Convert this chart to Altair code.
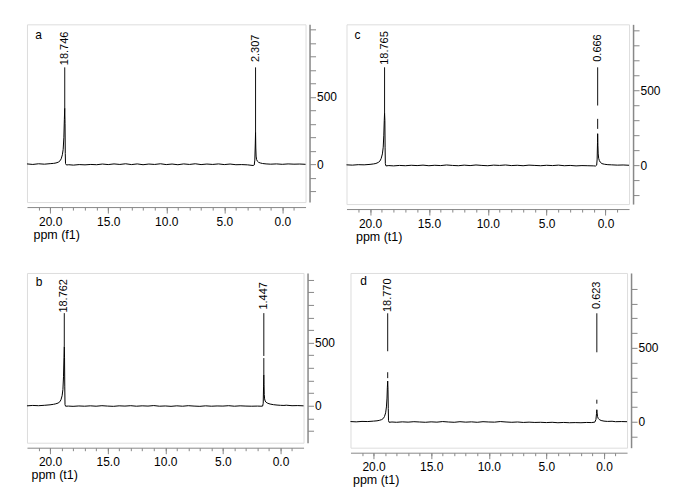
import altair as alt
import pandas as pd

FONT = "Liberation Sans"

# ---------------- spectra (ppm, intensity) ----------------
spec_a = [(22.0, 2), (21.5, -2), (21.0, 3), (20.5, 0), (20.0, 4), (19.7, 6), (19.5, 9), (19.3, 15),
          (19.15, 25), (19.05, 40), (18.95, 70), (18.88, 110), (18.82, 200), (18.78, 330), (18.746, 415),
          (18.72, 300), (18.70, 80), (18.68, 5), (18.6, -6), (18.4, -4), (18.0, -7), (17.5, -3), (17.0, -5),
          (16.5, -2), (16.0, -4), (15.5, 1), (15.0, -3), (14.5, 2), (14.0, -2), (13.5, 3), (13.0, -3),
          (12.5, 2), (12.0, -4), (11.5, 1), (11.0, -2), (10.5, 3), (10.0, -3), (9.5, 1), (9.0, -4), (8.5, 2),
          (8.0, -2), (7.5, 3), (7.0, -3), (6.5, 1), (6.0, -2), (5.5, 2), (5.0, -3), (4.5, 1), (4.0, -4),
          (3.5, -3), (3.0, -5), (2.7, -8), (2.5, -10), (2.42, -6), (2.37, 30), (2.33, 150), (2.307, 237),
          (2.285, 120), (2.26, 60), (2.22, 35), (2.15, 22), (2.05, 14), (1.9, 9), (1.7, 5), (1.4, 2),
          (1.0, 0), (0.5, 2), (0.0, -1), (-0.5, 2), (-1.0, 0), (-1.5, 1), (-2.0, -1)]

spec_b = [(22.0, 0), (21.5, 3), (21.0, 1), (20.5, 4), (20.0, 8), (19.7, 12), (19.5, 16), (19.3, 22),
          (19.15, 32), (19.05, 48), (18.95, 80), (18.88, 130), (18.83, 230), (18.79, 380), (18.762, 468),
          (18.74, 380), (18.72, 150), (18.70, 10), (18.65, -3), (18.4, -2), (18.0, -4), (17.5, -1),
          (17.0, -3), (16.5, 0), (16.0, -3), (15.5, 1), (15.0, -2), (14.5, -4), (14.0, 0), (13.5, -2),
          (13.0, 1), (12.5, -3), (12.0, 0), (11.5, -2), (11.0, 2), (10.5, -3), (10.0, -1), (9.5, -4),
          (9.0, 0), (8.5, -3), (8.0, 1), (7.5, -2), (7.0, -4), (6.5, 0), (6.0, -3), (5.5, -1), (5.0, -2),
          (4.5, 1), (4.0, -3), (3.5, 0), (3.0, -2), (2.5, -3), (2.0, -2), (1.7, -3), (1.55, -2), (1.5, 20),
          (1.47, 150), (1.447, 245), (1.43, 170), (1.41, 90), (1.38, 55), (1.33, 38), (1.25, 28),
          (1.1, 20), (0.9, 14), (0.6, 9), (0.3, 6), (0.0, 4), (-0.3, 3), (-0.5, 5), (-1.0, 1), (-1.5, 2),
          (-2.0, 0)]

spec_c = [(22.0, 2), (21.5, 0), (21.0, 3), (20.5, 2), (20.0, 5), (19.7, 8), (19.5, 11), (19.3, 18),
          (19.15, 28), (19.05, 45), (18.95, 75), (18.88, 120), (18.83, 200), (18.79, 300), (18.765, 347),
          (18.74, 300), (18.72, 120), (18.70, 10), (18.65, -5), (18.4, -3), (18.0, -5), (17.5, -2),
          (17.0, -4), (16.5, -1), (16.0, -3), (15.5, 0), (15.0, -4), (14.5, -1), (14.0, -3), (13.5, 1),
          (13.0, -2), (12.5, -4), (12.0, 0), (11.5, -3), (11.0, 1), (10.5, -2), (10.0, -4), (9.5, 0),
          (9.0, -2), (8.5, 1), (8.0, -3), (7.5, -1), (7.0, -4), (6.5, 0), (6.0, -2), (5.5, -4), (5.0, -1),
          (4.5, -3), (4.0, 0), (3.5, -4), (3.0, -2), (2.5, -5), (2.0, -3), (1.5, -4), (1.0, -5),
          (0.85, -6), (0.75, 0), (0.71, 40), (0.68, 150), (0.666, 210), (0.645, 130), (0.62, 75),
          (0.58, 45), (0.52, 30), (0.45, 20), (0.3, 10), (0.1, 6), (-0.2, 3), (-0.5, 2), (-1.0, 0),
          (-1.5, 1), (-2.0, -1)]

spec_d = [(22.0, 1), (21.5, -1), (21.0, 2), (20.5, 1), (20.0, 4), (19.7, 6), (19.5, 9), (19.3, 14),
          (19.15, 22), (19.05, 35), (18.95, 60), (18.88, 100), (18.83, 160), (18.8, 230), (18.770, 275),
          (18.745, 220), (18.72, 90), (18.70, 8), (18.65, -4), (18.4, -2), (18.0, -4), (17.5, -1),
          (17.0, -3), (16.5, 0), (16.0, -2), (15.5, -4), (15.0, -1), (14.5, -3), (14.0, 1), (13.5, -2),
          (13.0, -4), (12.5, 0), (12.0, -3), (11.5, -1), (11.0, -4), (10.5, 0), (10.0, -2), (9.5, -3),
          (9.0, 1), (8.5, -2), (8.0, -4), (7.5, -2), (7.0, -5), (6.5, -3), (6.0, -5), (5.5, -4),
          (5.0, -6), (4.5, -4), (4.0, -7), (3.5, -5), (3.0, -7), (2.5, -6), (2.0, -7), (1.5, -5),
          (1.1, -6), (0.8, -3), (0.7, 15), (0.65, 55), (0.623, 81), (0.6, 60), (0.56, 35), (0.5, 22),
          (0.4, 14), (0.25, 8), (0.0, 4), (-0.3, 2), (-0.7, 3), (-1.0, 0), (-1.5, 1), (-2.0, 0)]

# ---------------- peak labels ----------------
labels_a = [(18.746, "18.746"), (2.307, "2.307")]
labels_b = [(18.762, "18.762"), (1.447, "1.447")]
labels_c = [(18.765, "18.765"), (0.666, "0.666")]
labels_d = [(18.770, "18.770"), (0.623, "0.623")]

# leader lines: (ppm, from intensity, to intensity)
leaders_a = [(18.746, 718, 415), (2.307, 718, 237)]
leaders_b = [(18.762, 734, 468), (1.447, 734, 395), (1.447, 378, 245)]
leaders_c = [(18.765, 653, 347), (0.666, 653, 398), (0.666, 309, 242)]
leaders_d = [(18.770, 734, 477), (18.770, 335, 295), (0.623, 734, 470), (0.623, 149, 122)]

major_x = [20, 15, 10, 5, 0]
minor_x = list(range(-1, 22))


def panel(letter, spec, labels, leaders, ydom, yticks, xtitle, w, h, label_level,
          letter_pos, title_x):
    xs = alt.Scale(domain=[-2, 22], reverse=True, nice=False, zero=False)
    ys = alt.Scale(domain=ydom, nice=False, zero=False)
    yax = alt.Axis(orient="right", offset=4, values=yticks,
                   labelExpr="datum.value == 0 || datum.value == 500 ? datum.label : ''",
                   tickSize=6, labelPadding=1, title=None, grid=False, labelOverlap=False,
                   domainWidth=1.5, labelFont=FONT, labelFontSize=12, labelColor="#000")
    xmaj = alt.Axis(orient="bottom", offset=5, values=major_x, format=".1f", tickSize=6,
                    labelPadding=3, labelOverlap=False, grid=False, title=xtitle,
                    titleAnchor="start", titleAlign="left", titleX=title_x, titleY=27,
                    titleBaseline="middle", titleFontWeight="normal", titleFont=FONT,
                    titleFontSize=12.5, titleColor="#000", labelFont=FONT, labelFontSize=12,
                    labelColor="#000")
    xmin = alt.Axis(orient="bottom", offset=5, values=minor_x, tickSize=3, labels=False,
                    domain=False, title=None, grid=False)

    sdf = pd.DataFrame(spec, columns=["ppm", "v"])
    ldf = pd.DataFrame(leaders, columns=["ppm", "top", "bot"])
    tdf = pd.DataFrame(labels, columns=["ppm", "t"])
    tdf["ly"] = label_level
    pdf = pd.DataFrame([{"ppm": letter_pos[0], "ly": letter_pos[1], "t": letter}])

    line = alt.Chart(sdf).mark_line(color="#000", strokeWidth=1).encode(
        x=alt.X("ppm:Q", scale=xs, axis=xmaj),
        y=alt.Y("v:Q", scale=ys, axis=yax),
    )
    rules = alt.Chart(ldf).mark_rule(color="#111", strokeWidth=1).encode(
        x=alt.X("ppm:Q", scale=xs, axis=xmin),
        y=alt.Y("top:Q", scale=ys, axis=yax),
        y2="bot:Q",
    )
    texts = alt.Chart(tdf).mark_text(angle=270, align="center", baseline="middle",
                                     font=FONT, fontSize=11, color="#000").encode(
        x=alt.X("ppm:Q", scale=xs, axis=None),
        y=alt.Y("ly:Q", scale=ys, axis=yax),
        text="t:N",
    )
    let = alt.Chart(pdf).mark_text(align="center", baseline="middle", font=FONT,
                                   fontSize=12, color="#000").encode(
        x=alt.X("ppm:Q", scale=xs, axis=None),
        y=alt.Y("ly:Q", scale=ys, axis=yax),
        text="t:N",
    )
    return alt.layer(line, rules, texts, let).resolve_axis(x="independent").properties(
        width=w, height=h)


pa = panel("a", spec_a, labels_a, leaders_a, [-281, 1037], list(range(-200, 1001, 100)),
           "ppm (f1)", 279, 178, 859, (21.0, 955), 6)
pc = panel("c", spec_c, labels_c, leaders_c, [-260, 940], list(range(-200, 901, 100)),
           "ppm (t1)", 283, 180, 782, (21.07, 867), 9)
pb = panel("b", spec_b, labels_b, leaders_b, [-292, 1052], list(range(-200, 1001, 100)),
           "ppm (t1)", 277, 170, 871, (20.96, 979), 4)
pd_ = panel("d", spec_d, labels_d, leaders_d, [-176, 1007], list(range(-100, 901, 100)),
            "ppm (t1)", 277, 175, 856, (20.87, 951), 2)

row1 = alt.hconcat(pa, pc, spacing=41, bounds="flush")
row2 = alt.hconcat(pb, pd_, spacing=47, bounds="flush")

chart = alt.vconcat(row1, row2, spacing=29).properties(
    padding={"left": 16, "top": 14, "right": 5, "bottom": 5}
).configure_view(stroke="#000", strokeWidth=1).configure_axis(
    domainColor="#000", tickColor="#000"
).configure(background="white")

chart.save("out.html", embed_options={"renderer": "svg", "actions": False})
